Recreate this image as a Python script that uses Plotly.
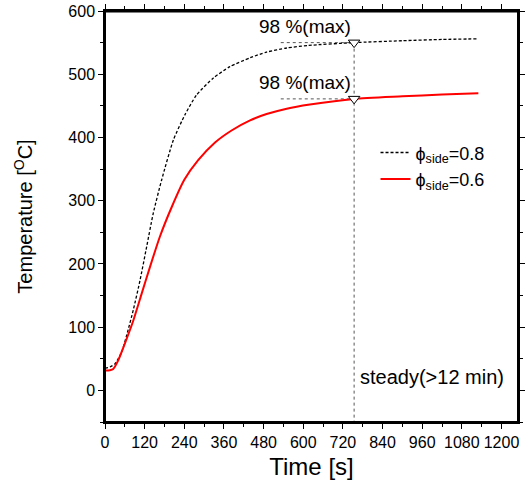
import plotly.graph_objects as go

# ---- data ----
t_08 = [0, 15, 30, 50, 66, 86, 106, 126, 146, 171, 207, 242, 277, 328, 378, 439, 489, 550, 615, 754, 900, 1020, 1130]
T_08 = [35, 37, 42, 60, 88, 128, 174, 227, 280, 332, 396, 436, 467, 494, 512, 526, 535, 541.5, 545.5, 550, 553, 555, 556]

t_06 = [0, 15, 25, 40, 60, 86, 111, 136, 166, 202, 240, 282, 333, 383, 439, 489, 550, 620, 754, 900, 1020, 1130]
T_06 = [31.5, 32, 34, 47.5, 74, 111, 153, 195, 243, 290, 333, 364, 392, 411, 427, 437, 445.5, 452, 461, 465, 468, 470]

t_steady = 754
T_98_08 = 550
T_98_06 = 461
t_ref_start = 532

label_08 = "ϕ<sub>side</sub>=0.8"
label_06 = "ϕ<sub>side</sub>=0.6"
x_ticks = [0, 120, 240, 360, 480, 600, 720, 840, 960, 1080, 1200]
y_ticks = [0, 100, 200, 300, 400, 500, 600]

FONT = "Liberation Sans, Arial, sans-serif"

fig = go.Figure()

guide = dict(color="#555555", width=1, dash="dot")
fig.add_trace(go.Scatter(x=[t_steady, t_steady], y=[T_98_08, -50], mode="lines",
                         line=guide, showlegend=False, hoverinfo="skip"))
fig.add_trace(go.Scatter(x=[t_ref_start, t_steady], y=[T_98_08, T_98_08], mode="lines",
                         line=guide, showlegend=False, hoverinfo="skip"))
fig.add_trace(go.Scatter(x=[t_ref_start, t_steady], y=[T_98_06, T_98_06], mode="lines",
                         line=guide, showlegend=False, hoverinfo="skip"))

fig.add_trace(go.Scatter(x=t_08, y=T_08, mode="lines", name=label_08,
                         line=dict(color="black", width=1.3, dash="3px,2px", shape="spline", smoothing=0.6)))
fig.add_trace(go.Scatter(x=t_06, y=T_06, mode="lines", name=label_06,
                         line=dict(color="red", width=2, shape="spline", smoothing=0.6)))

fig.add_trace(go.Scatter(x=[t_steady, t_steady], y=[T_98_08, T_98_06], mode="markers",
                         marker=dict(symbol="triangle-down", size=10, color="white",
                                     line=dict(color="black", width=1)),
                         showlegend=False, hoverinfo="skip"))

fig.add_annotation(x=605, y=575, text="98 %(max)", showarrow=False, font=dict(size=19, color="black"))
fig.add_annotation(x=605, y=487, text="98 %(max)", showarrow=False, font=dict(size=19, color="black"))
fig.add_annotation(x=990, y=21, text="steady(&gt;12 min)", showarrow=False, font=dict(size=20, color="black"))

# plot frame (top edge drawn explicitly as well)
fig.add_shape(type="rect", xref="paper", yref="paper", x0=0, x1=1, y0=0, y1=1,
              line=dict(color="black", width=2), fillcolor="rgba(0,0,0,0)", layer="above")
fig.add_shape(type="line", xref="paper", yref="paper", x0=0, x1=1, y0=0.999, y1=0.999,
              line=dict(color="black", width=2), layer="above")

axis_common = dict(
    showline=True, linecolor="black", linewidth=1.5, mirror="allticks",
    ticks="outside", ticklen=5, tickwidth=1.2, tickcolor="black",
    showgrid=False, zeroline=False, automargin=False,
    tickfont=dict(size=16, color="black"),
)

fig.update_xaxes(range=[0, 1250], tickvals=x_ticks,
                 minor=dict(dtick=60, tick0=0, ticks="outside", ticklen=3, tickcolor="black", tickwidth=1),
                 title=dict(text="Time [s]", font=dict(size=24, color="black"), standoff=8),
                 **axis_common)
fig.update_yaxes(range=[-50, 600], tickvals=y_ticks,
                 minor=dict(dtick=50, tick0=0, ticks="outside", ticklen=3, tickcolor="black", tickwidth=1),
                 title=dict(text="Temperature [<sup>O</sup>C]", font=dict(size=20, color="black"), standoff=30),
                 **axis_common)

fig.update_layout(
    width=526, height=491,
    margin=dict(l=105, r=8, t=11, b=69, autoexpand=False),
    plot_bgcolor="white", paper_bgcolor="white",
    font=dict(family=FONT, color="black"),
    legend=dict(x=0.655, y=0.70, xanchor="left", yanchor="top",
                bgcolor="rgba(0,0,0,0)", font=dict(size=18, color="black"),
                tracegroupgap=0, itemwidth=30),
)

fig.write_html("out.html", config={"displayModeBar": False},
               post_script="document.body.style.margin='0px';")
